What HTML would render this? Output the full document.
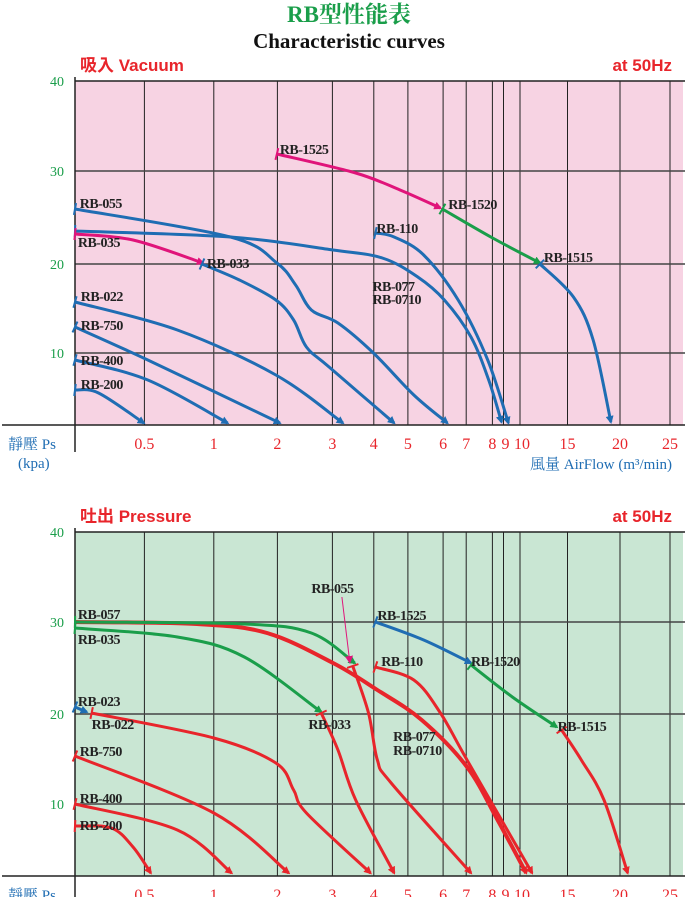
<!DOCTYPE html>
<html><head><meta charset="utf-8"><style>
body{margin:0;background:#fff;}
svg{display:block}
.l{font-family:"Liberation Serif",serif;font-weight:bold;font-size:14px;fill:#222;letter-spacing:-0.5px}
.yt{font-family:"Liberation Serif",serif;font-size:14px;fill:#1a9e4a;text-anchor:end}
.xt{font-family:"Liberation Serif",serif;font-size:16px;fill:#e8252b;text-anchor:middle}
.h{font-family:"Liberation Sans","Noto Sans CJK TC",sans-serif;font-weight:bold;font-size:17px;fill:#e8252b}
.b{font-family:"Liberation Serif","Noto Serif CJK SC",serif;font-size:15px;fill:#1f6db3}
</style></head><body>
<svg id="s" width="697" height="897" xmlns="http://www.w3.org/2000/svg">
<defs>
<marker id="ab" markerWidth="8" markerHeight="8" refX="6" refY="4" orient="auto" markerUnits="userSpaceOnUse"><path d="M0,0L8,4L0,8z" fill="#1f6db3"/></marker>
<marker id="ar" markerWidth="8" markerHeight="8" refX="6" refY="4" orient="auto" markerUnits="userSpaceOnUse"><path d="M0,0L8,4L0,8z" fill="#e8252b"/></marker>
<marker id="ag" markerWidth="8" markerHeight="8" refX="6" refY="4" orient="auto" markerUnits="userSpaceOnUse"><path d="M0,0L8,4L0,8z" fill="#1a9e4a"/></marker>
<marker id="am" markerWidth="8" markerHeight="8" refX="6" refY="4" orient="auto" markerUnits="userSpaceOnUse"><path d="M0,0L8,4L0,8z" fill="#e0147a"/></marker>
</defs>
<text x="349" y="22" text-anchor="middle" style="font-family:'Liberation Serif','Noto Serif CJK SC',serif;font-weight:bold;font-size:23px;fill:#1a9e4a">RB型性能表</text>
<text x="349" y="48" text-anchor="middle" style="font-family:'Liberation Serif',serif;font-weight:bold;font-size:21px;fill:#111">Characteristic curves</text>
<g id="g"></g>
</svg>
<script>
var K=0.9853;
var X=[75,144.4,213.8,277.4,332.4,373.8,407.9,443.1,466.2,492.4,503.5,520,567.5,620,670];
var s=document.getElementById('g'),NS='http://www.w3.org/2000/svg';
function el(t,a,txt){var e=document.createElementNS(NS,t);for(var k in a)e.setAttribute(k,a[k]);if(txt)e.textContent=txt;s.appendChild(e);return e;}
function cr(p){var d='M'+p[0][0]+','+p[0][1];for(var i=0;i<p.length-1;i++){var p0=p[i-1]||p[i],p1=p[i],p2=p[i+1],p3=p[i+2]||p2;
d+=' C'+(p1[0]+(p2[0]-p0[0])/6)+','+(p1[1]+(p2[1]-p0[1])/6)+' '+(p2[0]-(p3[0]-p1[0])/6)+','+(p2[1]-(p3[1]-p1[1])/6)+' '+p2[0]+','+p2[1];}return d;}
var C={b:'#1f6db3',r:'#e8252b',g:'#1a9e4a',m:'#e0147a'};
function cv(p,c,w){p=p.map(function(q){return [Math.max(75,q[0]*K),q[1]];});
el('path',{d:cr(p),fill:'none',stroke:C[c],'stroke-width':w||3,'marker-end':'url(#a'+c+')'});
var a=p[0],b=p[1],dx=b[0]-a[0],dy=b[1]-a[1],L=Math.hypot(dx,dy);el('line',{x1:a[0]-dy/L*6,y1:a[1]+dx/L*6,x2:a[0]+dy/L*6,y2:a[1]-dx/L*6,stroke:C[c],'stroke-width':2});}
function chart(top,bot,yv,bg,title){
el('rect',{x:75,y:top,width:608,height:bot-top,fill:bg});
el('line',{x1:75,y1:top,x2:685,y2:top,stroke:'#222','stroke-width':1.5});
X.slice(1).forEach(function(x){el('line',{x1:x,y1:top,x2:x,y2:bot,stroke:'#222','stroke-width':1});});
yv.forEach(function(y,i){if(i>0&&i<4)el('line',{x1:75,y1:y,x2:685,y2:y,stroke:'#444','stroke-width':1.5});if(i<4)el('text',{x:64,y:y+5,'class':'yt'},String(40-10*i));});
el('line',{x1:2,y1:bot,x2:685,y2:bot,stroke:'#222','stroke-width':1.5});
el('line',{x1:75,y1:top-4,x2:75,y2:bot+27,stroke:'#222','stroke-width':1.5});
['0.5','1','2','3','4','5','6','7','8','9','10','15','20','25'].forEach(function(t,i){var x=X[i+1];if(t=='9')x+=2;if(t=='10')x+=2;el('text',{x:x,y:bot+24,'class':'xt'},t);});
el('text',{x:80,y:top-10,'class':'h'},title);el('text',{x:672,y:top-10,'class':'h','text-anchor':'end'},'at 50Hz');
el('text',{x:8,y:bot+24,'class':'b'},'靜壓 Ps');}
function lab(L){L.forEach(function(a){el('text',{x:a[1]*K,y:a[2],'class':'l'},a[0]);});}
chart(81,425,[81,171,264,353,425],'#f7d3e3','吸入 Vacuum');
el('text',{x:18,y:468,'class':'b'},'(kpa)');
el('text',{x:672,y:469,'class':'b','text-anchor':'end'},'風量 AirFlow (m³/min)');
chart(532,876,[532,622,714,804,876],'#c9e6d3','吐出 Pressure');
// top curves
cv([[281,154],[361,173],[406,190],[447,208]],'m');
cv([[449,209],[500,238],[548,263]],'g');
cv([[548,264],[582,297],[602,340],[620,422]],'b');
cv([[76,209],[234,237],[281,263],[300,285],[316,310],[343,323],[379,353],[420,395],[454,423]],'b');
cv([[76,231],[234,237],[338,250],[388,258],[424,277],[451,300],[478,337],[496,380],[509,422]],'b');
cv([[76,234],[135,240],[206,263]],'m');
cv([[205,264],[243,280],[280,300],[298,320],[311,347],[334,367],[400,423]],'b');
cv([[381,233],[400,237],[430,255],[465,300],[495,360],[516,423]],'b');
cv([[76,302],[180,330],[280,375],[348,423]],'b');
cv([[76,327],[150,360],[284,423]],'b');
cv([[76,360],[150,380],[231,423]],'b');
cv([[76,390],[100,393],[146,423]],'b');
lab([['RB-1525',284,154],['RB-055',81,208],['RB-035',79,247],['RB-033',210,268],['RB-110',382,233],['RB-1520',455,209],['RB-1515',552,262],['RB-077',378,291],['RB-0710',378,304],['RB-022',82,301],['RB-750',82,330],['RB-400',82,365],['RB-200',82,389]]);
// bottom curves
cv([[76,622],[200,624],[271,633],[338,663],[383,690],[428,720],[474,767],[505,820],[534,873]],'r',4);
cv([[76,622],[248,624],[316,633],[360,663]],'g');
cv([[358,666],[374,713],[383,760],[397,783],[478,873]],'r');
cv([[76,628],[180,637],[248,657],[326,712]],'g');
cv([[326,713],[343,750],[361,800],[400,873]],'r');
cv([[381,667],[420,680],[447,713],[474,760],[540,873]],'r');
cv([[381,622],[430,640],[478,663]],'b');
cv([[478,665],[520,697],[565,727]],'g');
cv([[570,730],[590,760],[613,800],[637,873]],'r');
cv([[76,707],[88,712]],'b');
cv([[93,713],[217,738],[280,763],[298,790],[311,813],[376,873]],'r');
cv([[76,756],[217,813],[293,873]],'r');
cv([[76,804],[180,830],[235,873]],'r');
cv([[76,826],[113,828],[135,847],[153,873]],'r');
el('line',{x1:347*K,y1:597,x2:355*K,y2:662,stroke:'#e0147a','stroke-width':1,'marker-end':'url(#am)'});
lab([['RB-055',316,593],['RB-1525',383,620],['RB-057',79,619],['RB-035',79,644],['RB-110',387,666],['RB-1520',478,666],['RB-023',79,706],['RB-022',93,729],['RB-033',313,729],['RB-1515',566,731],['RB-077',399,741],['RB-0710',399,755],['RB-750',81,756],['RB-400',81,803],['RB-200',81,830]]);
</script>
</body></html>
